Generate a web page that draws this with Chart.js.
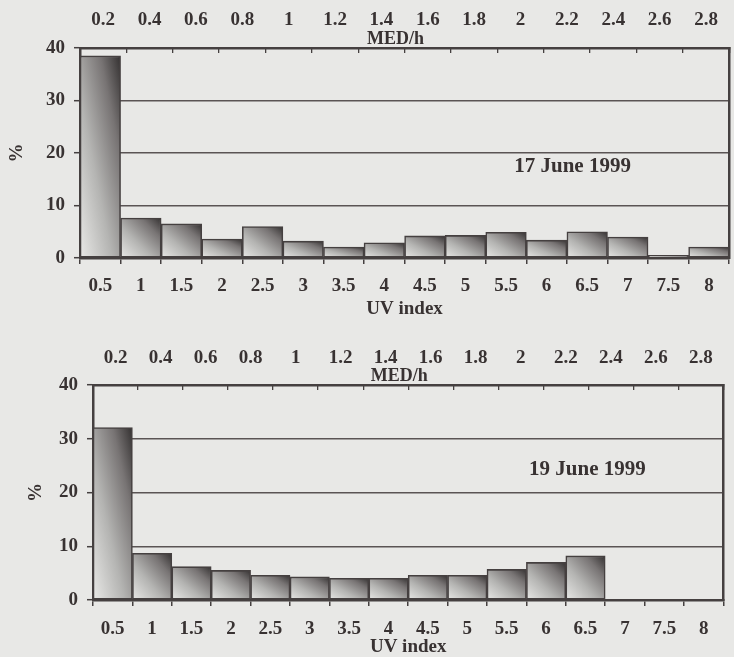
<!DOCTYPE html>
<html>
<head>
<meta charset="utf-8">
<script src="https://cdn.jsdelivr.net/npm/chart.js@4"></script>
<style>
  html, body { margin: 0; padding: 0; background: #e8e8e6; width: 734px; height: 657px; overflow: hidden; }
  #c1 { position: absolute; left: 0; top: 0; }
  #c2 { position: absolute; left: 0; top: 330px; }
</style>
</head>
<body>
<canvas id="c1" width="740" height="325"></canvas>
<canvas id="c2" width="734" height="327"></canvas>
<script>
// ---- data ----
const uvLabels  = ['0.5','1','1.5','2','2.5','3','3.5','4','4.5','5','5.5','6','6.5','7','7.5','8'];
const medLabels = ['0.2','0.4','0.6','0.8','1','1.2','1.4','1.6','1.8','2','2.2','2.4','2.6','2.8'];
const pct17June = [38.5, 7.6, 6.5, 3.6, 6.0, 3.2, 2.1, 2.9, 4.2, 4.3, 4.9, 3.4, 5.0, 4.0, 0.5, 2.1];
const pct19June = [32.1, 8.7, 6.2, 5.5, 4.6, 4.3, 4.05, 4.05, 4.6, 4.6, 5.7, 7.0, 8.2, 0, 0, 0];
const yTicks = [0, 10, 20, 30, 40];
const date17 = '17 June 1999';
const date19 = '19 June 1999';
const xTitle = 'UV index';
const topTitle = 'MED/h';
const yTitle = '%';

const INK = '#383232';
const LINE = '#454040';
const GRID = '#5a5454';
const FONT = '"Liberation Serif", "Times New Roman", serif';

Chart.defaults.font.family = FONT;
Chart.defaults.font.weight = 'bold';
Chart.defaults.color = INK;

function barGradient(ctx) {
  const chart = ctx.chart;
  if (!chart.chartArea) return '#b0b0b0';
  const xs = chart.scales.x, ys = chart.scales.y;
  const v = ctx.raw;
  const w = xs.width / uvLabels.length;
  const xc = xs.getPixelForValue(ctx.dataIndex);
  const x0 = xc - w / 2;
  const yb = ys.getPixelForValue(0);
  const yt = ys.getPixelForValue(v);
  const h = yb - yt;
  if (!(h > 0.5)) return '#c8c8c8';
  const k = 2 * w * h / (h * h + w * w);
  const g = chart.ctx.createLinearGradient(x0, yb, x0 + h * k, yb - w * k);
  g.addColorStop(0, '#e9e9e7');
  g.addColorStop(0.4, '#b4b4b2');
  g.addColorStop(0.75, '#787474');
  g.addColorStop(1, '#333030');
  return g;
}

const annotate = {
  id: 'annotate',
  afterDraw(chart, args, opts) {
    const {ctx, chartArea, scales} = chart;
    ctx.save();
    ctx.fillStyle = INK;
    ctx.textAlign = 'center';
    ctx.textBaseline = 'middle';
    ctx.font = 'bold 18px ' + FONT;
    ctx.fillText(topTitle, (chartArea.left + chartArea.right) / 2 - 9, chartArea.top - 9);
    ctx.font = 'bold 21px ' + FONT;
    ctx.fillText(opts.text, scales.x.getPixelForValue(opts.xi), scales.y.getPixelForValue(opts.yv));
    ctx.restore();
  }
};

function makeChart(canvasId, values, g) {
  const H = document.getElementById(canvasId).height;
  return new Chart(document.getElementById(canvasId), {
    type: 'bar',
    data: {
      labels: uvLabels,
      datasets: [{
        data: values,
        backgroundColor: barGradient,
        borderColor: LINE,
        borderWidth: 1.6,
        borderSkipped: false,
        barPercentage: 1,
        categoryPercentage: 1
      }]
    },
    options: {
      responsive: false,
      animation: false,
      layout: { padding: 0 },
      plugins: {
        legend: { display: false },
        tooltip: { enabled: false },
        annotate: { text: g.text, xi: g.xi, yv: g.yv }
      },
      scales: {
        x: {
          type: 'category',
          position: 'bottom',
          offset: true,
          grid: { drawOnChartArea: false, drawTicks: true, tickLength: 6, offset: true, color: LINE, lineWidth: 1.5 },
          border: { display: true, width: 2.5, color: LINE },
          ticks: { font: { size: 19, weight: 'bold' }, padding: g.xPad, color: INK, maxRotation: 0, autoSkip: false },
          title: { display: true, text: xTitle, font: { size: 19, weight: 'bold', lineHeight: 1 }, padding: { top: 0, bottom: g.xTitlePad }, color: INK },
          afterFit: s => { s.height = H - g.bottom; }
        },
        x2: {
          type: 'category',
          labels: medLabels,
          position: 'top',
          offset: true,
          grid: { drawOnChartArea: false, drawTicks: true, tickLength: -5, offset: true, color: LINE, lineWidth: 1.3 },
          border: { display: true, width: 2.5, color: LINE },
          ticks: { font: { size: 19, weight: 'bold' }, padding: g.topPad, color: INK, maxRotation: 0, autoSkip: false },
          afterFit: s => { s.height = g.top; }
        },
        y: {
          type: 'linear',
          position: 'left',
          min: 0, max: 40,
          afterBuildTicks: s => { s.ticks = yTicks.map(v => ({ value: v })); },
          grid: {
            drawTicks: true, tickLength: 6, tickColor: LINE, tickWidth: 1.5,
            color: c => (c.tick && (c.tick.value === 0 || c.tick.value === 40)) ? 'rgba(0,0,0,0)' : GRID,
            lineWidth: 1.4
          },
          border: { display: true, width: 2.5, color: LINE },
          ticks: { font: { size: 19, weight: 'bold' }, padding: 9, color: INK },
          title: { display: true, text: yTitle, font: { size: 19, weight: 'bold', lineHeight: 1 }, padding: { top: g.yTitlePad, bottom: 0 }, color: INK },
          afterFit: s => { s.width = g.left; }
        },
        yR: {
          type: 'linear',
          position: 'right',
          min: 0, max: 40,
          grid: { drawOnChartArea: false, drawTicks: false },
          ticks: { display: false },
          border: { display: true, width: 2.5, color: LINE },
          afterFit: s => { s.width = g.rightW; }
        }
      }
    },
    plugins: [annotate]
  });
}

makeChart('c1', pct17June, { top: 48, bottom: 258, left: 80, rightW: 3, xPad: 11, topPad: 22, xTitlePad: 6, yTitlePad: 8, text: date17, xi: 11.64, yv: 17.5 });
makeChart('c2', pct19June, { top: 55, bottom: 270, left: 93, rightW: 7, xPad: 12, topPad: 21, xTitlePad: 0, yTitlePad: 27, text: date19, xi: 12.05, yv: 24.2 });
</script>
</body>
</html>
